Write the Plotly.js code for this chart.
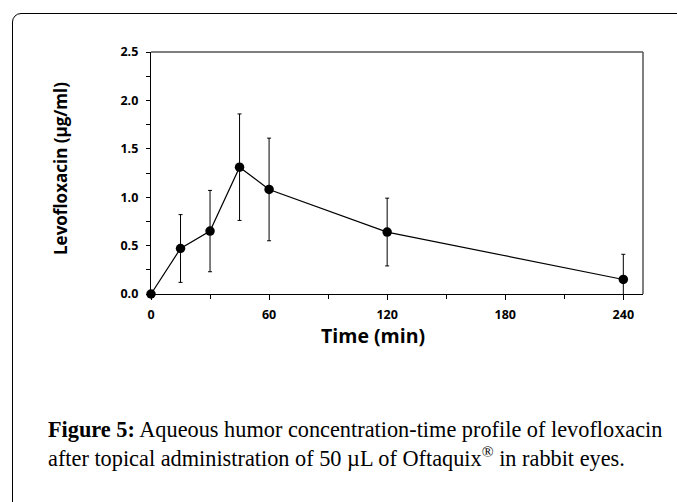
<!DOCTYPE html>
<html>
<head>
<meta charset="utf-8">
<script src="https://cdn.plot.ly/plotly-3.0.1.min.js"></script>
<style>
  html, body { margin: 0; padding: 0; background: #fff; overflow: hidden; }
  #frame { position: absolute; left: 12px; top: 13px; width: 720px; height: 600px;
           border: 1.6px solid #000; border-radius: 9px; box-sizing: border-box; }
  #chart { position: absolute; left: 0; top: 0; width: 677px; height: 502px; }
</style>
</head>
<body>
<div id="frame"></div>
<div id="chart"></div>
<script>
// Data
const timeMin = [0, 15, 30, 45, 60, 120, 240];
const concentration = [0.0, 0.47, 0.65, 1.31, 1.08, 0.64, 0.15];
const sd = [0.0, 0.35, 0.42, 0.55, 0.53, 0.35, 0.26];
const xTickVals = [0, 60, 120, 180, 240];
const xTickText = ['0', '60', '120', '180', '240'];
const xTitle = 'Time (min)';
const yTitle = 'Levofloxacin (µg/ml)';
const captionLine1 = '<b>Figure 5:</b> Aqueous humor concentration-time profile of levofloxacin';
const captionLine2 = 'after topical administration of 50 µL of Oftaquix<sup>®</sup> in rabbit eyes.';

const W = 677, H = 502;
const L = 151, R = 643, T = 52, B = 294;
const pw = R - L, ph = B - T;
const px = x => (x - L) / pw;
const py = y => (B - y) / ph;

const trace = {
  x: timeMin,
  y: concentration,
  type: 'scatter',
  mode: 'lines+markers',
  line: { color: '#000', width: 1.2 },
  marker: { color: '#000', size: 9.5 },
  error_y: { type: 'data', array: sd, visible: true, color: '#000', thickness: 1, width: 2 },
  cliponaxis: false,
  hoverinfo: 'none'
};

const sans = 'Open Sans, Liberation Sans, sans-serif';
const serif = 'Liberation Serif, DejaVu Serif, serif';
const tickFont = { family: sans, size: 12.5, color: '#000', weight: 'bold' };

const layout = {
  width: W, height: H,
  paper_bgcolor: 'rgba(0,0,0,0)',
  plot_bgcolor: 'rgba(0,0,0,0)',
  margin: { l: L, r: W - R, t: T, b: H - B },
  showlegend: false,
  xaxis: {
    range: [0, 250],
    tickvals: xTickVals,
    ticktext: xTickText,
    ticks: 'outside', ticklen: 5, tickwidth: 1, tickcolor: '#000',
    minor: { tickvals: [30, 90, 150, 210], ticks: 'outside', ticklen: 4, tickwidth: 1, tickcolor: '#000' },
    showline: true, linecolor: '#000', linewidth: 1.2,
    showgrid: false, zeroline: false,
    tickfont: tickFont,
    ticklabelstandoff: 4
  },
  yaxis: {
    range: [0, 2.5],
    dtick: 0.5, tick0: 0,
    tickformat: '.1f',
    ticks: 'outside', ticklen: 4, tickwidth: 1, tickcolor: '#000',
    minor: { dtick: 0.25, ticks: 'outside', ticklen: 4, tickwidth: 1, tickcolor: '#000' },
    showline: true, linecolor: '#000', linewidth: 1.2,
    showgrid: false, zeroline: false,
    tickfont: tickFont,
    ticklabelstandoff: 5
  },
  shapes: [
    { type: 'line', xref: 'paper', yref: 'paper', x0: 0, x1: 1, y0: 1, y1: 1, line: { color: '#555', width: 1.5 } },
    { type: 'line', xref: 'paper', yref: 'paper', x0: 1, x1: 1, y0: 0, y1: 1, line: { color: '#555', width: 1.5 } }
  ],
  annotations: [
    { xref: 'paper', yref: 'paper', x: px(373), y: py(335), xanchor: 'center', yanchor: 'middle', showarrow: false,
      text: xTitle, font: { family: sans, size: 19.5, color: '#000', weight: 'bold' } },
    { xref: 'paper', yref: 'paper', x: px(60), y: py(169), xanchor: 'center', yanchor: 'middle', showarrow: false,
      textangle: -90, text: yTitle, font: { family: sans, size: 17, color: '#000', weight: 'bold' } },
    { xref: 'paper', yref: 'paper', x: px(46), y: py(444), xanchor: 'left', yanchor: 'middle', showarrow: false, align: 'left',
      text: captionLine1 + '<br>' + captionLine2, font: { family: serif, size: 22.3, color: '#000' } }
  ]
};

Plotly.newPlot('chart', [trace], layout, { staticPlot: true, displayModeBar: false });
</script>
</body>
</html>
